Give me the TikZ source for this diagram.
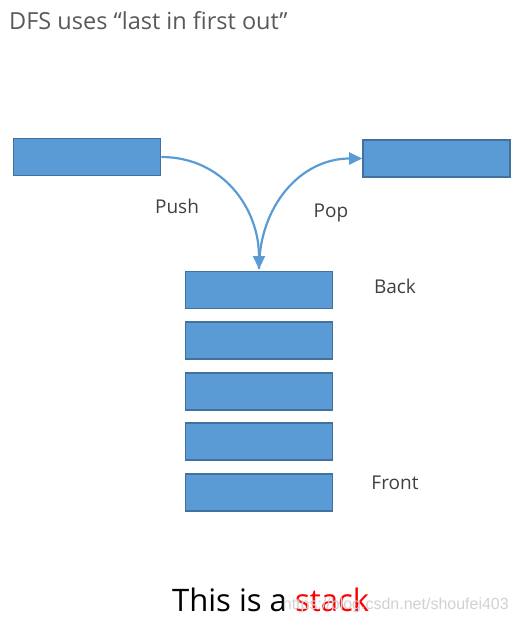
\documentclass[tikz,border=0pt]{standalone}
\usepackage{fontspec}
\setmainfont{Open Sans}
\usetikzlibrary{arrows.meta}
\definecolor{boxfill}{HTML}{5B9BD5}
\definecolor{boxline}{HTML}{41719C}
\definecolor{arrowc}{HTML}{5B9BD5}
\definecolor{titlec}{HTML}{595959}
\definecolor{labelc}{HTML}{404040}
\tikzset{
  blk/.style={draw=boxline, line width=1.6pt, fill=boxfill, minimum width=147pt, minimum height=37pt, inner sep=0pt},
  lbl/.style={text=labelc, font=\fontsize{19}{22}\selectfont, inner sep=0pt},
  conn/.style={draw=arrowc, line width=2.2pt, -{Triangle[length=13pt,width=12pt]}}
}
\begin{document}
\begin{tikzpicture}[x=1pt,y=-1pt]
\useasboundingbox (0,0) rectangle (518,626);
\node[anchor=west, text=titlec, font=\fontsize{23.5}{28}\selectfont, inner sep=0pt] (title) at (9,21) {DFS uses “last in first out”};
\node[blk] (src) at (87,157) {};
\node[blk] (dst) at (436.5,158.5) {};
\node[blk] (s1) at (259,290) {};
\node[blk] (s2) at (259,340.5) {};
\node[blk] (s3) at (259,391.5) {};
\node[blk] (s4) at (259,441.5) {};
\node[blk] (s5) at (259,492.5) {};
\coordinate (top) at (259,269);
\draw[conn] (src.east) to[out=0,in=90,looseness=1.05] (top);
\draw[conn] (top) to[out=90,in=180,looseness=1.05] (dst.west);
\node[lbl] (push) at (177,206) {Push};
\node[lbl] (pop) at (331,213) {Pop};
\node[lbl] (back) at (395,286) {Back};
\node[lbl] (front) at (395,483) {Front};
\node[anchor=west, font=\fontsize{31}{36}\selectfont, inner sep=0pt] (cap) at (172,600) {This is a \textcolor{red}{stack}};
\node[anchor=east, text=black!18, font=\fontsize{16}{18}\selectfont\setmainfont{Liberation Sans}, inner sep=0pt] (wm) at (509,605) {https://blog.csdn.net/shoufei403};
\end{tikzpicture}
\end{document}
